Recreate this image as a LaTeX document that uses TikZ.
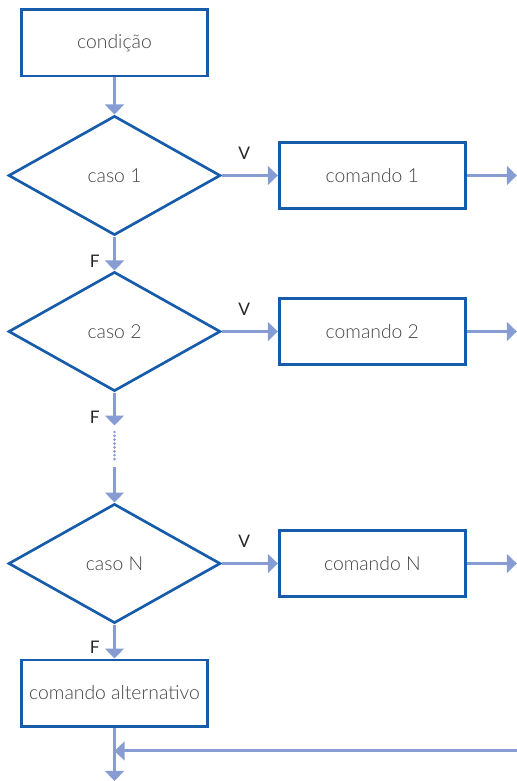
\documentclass[tikz,border=0pt]{standalone}
\usepackage{fontspec}
\setmainfont{Lato}[UprightFont=* Light, BoldFont=*]
\usetikzlibrary{shapes.geometric, arrows.meta, positioning}
\definecolor{boxblue}{RGB}{22,92,170}
\definecolor{linkblue}{RGB}{134,156,210}
\definecolor{txtgray}{RGB}{68,68,68}

\begin{document}
\begin{tikzpicture}[
  node distance=25.5pt and 42pt,
  block/.style={draw=boxblue, line width=2pt, minimum width=139.75pt,
                minimum height=49.75pt, inner sep=2pt, text=txtgray,
                font=\fontsize{14.5}{17}\selectfont},
  decide/.style={block, diamond, minimum width=159pt, minimum height=89.5pt,
                 inner sep=0pt},
  arr/.style={-{Triangle[length=7.5pt, width=14pt]}, draw=linkblue, line width=2.25pt},
  dots/.style={draw=linkblue, line width=2.2pt, line cap=round, dash pattern=on 0pt off 2.9pt},
  lab/.style={font=\bfseries\fontsize{13}{15}\selectfont, text=black!85, inner sep=0pt},
  vlab/.style={lab, pos=0.4, above=11pt},
  flab/.style={lab, pos=0.72, left=10pt}
]
\useasboundingbox (-85.875pt,32.25pt) rectangle (301.875pt,-553.5pt);

% main column
\node[block]                          (cond) {condição};
\node[decide, below=27.75pt of cond]  (d1)   {caso 1};
\node[decide, below=of d1]            (d2)   {caso 2};
\node[decide, below=82.5pt of d2]     (dN)   {caso N};
\node[block,  below=of dN]            (alt)  {comando alternativo};

% commands on the right
\node[block, right=of d1] (c1) {comando 1};
\node[block, right=of d2] (c2) {comando 2};
\node[block, right=of dN] (cN) {comando N};

\coordinate[right=37.5pt of c1] (o1);
\coordinate[right=37.5pt of c2] (o2);
\coordinate[right=37.5pt of cN] (oN);

% gap between caso 2 and caso N
\coordinate[below=24.75pt of d2] (g1);
\coordinate[below=29.6pt of d2]  (g2);
\coordinate[below=50.6pt of d2]  (g3);
\coordinate[below=55.9pt of d2]  (g4);

% join below the alternative
\coordinate[below=17.6pt of alt] (j);
\coordinate[below=40.1pt of alt] (e);
\coordinate (r) at (o1 |- j);

\draw[arr] (cond) -- (d1);
\draw[arr] (d1) -- node[flab]{F} (d2);
\draw[arr] (d2) -- node[flab, pos=0.76]{F} (g1);
\draw[dots] (g2) -- (g3);
\draw[arr] (g4) -- (dN);
\draw[arr] (dN) -- node[flab, pos=0.68]{F} (alt);

\draw[arr] (d1) -- node[vlab]{V} (c1);
\draw[arr] (d2) -- node[vlab]{V} (c2);
\draw[arr] (dN) -- node[vlab]{V} (cN);
\draw[arr] (c1) -- (o1);
\draw[arr] (c2) -- (o2);
\draw[arr] (cN) -- (oN);

\draw[arr] (alt) -- (e);
\draw[arr] (r) -- (j);
\end{tikzpicture}
\end{document}
